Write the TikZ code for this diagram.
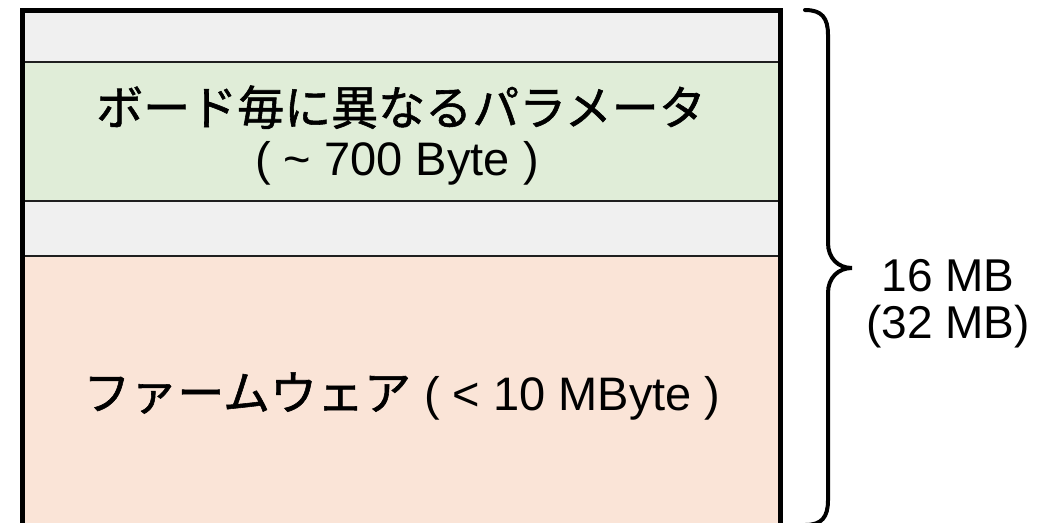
\documentclass[tikz,border=0pt]{standalone}
\usepackage{fontspec}
\setmainfont{Liberation Sans}
\newfontfamily\jp[FakeBold=1.2]{Noto Sans CJK JP}
\definecolor{bandgray}{HTML}{F0F0F0}
\definecolor{bandgreen}{HTML}{E0EDD8}
\definecolor{bandorange}{HTML}{FAE4D7}
\begin{document}
\begin{tikzpicture}[x=1pt,y=-1pt,
  band/.style={draw=black!88, line width=2pt, inner sep=0pt, outer sep=0pt, anchor=north west, minimum width=758pt},
  lbl/.style={font=\fontsize{47}{56}\selectfont, anchor=base, inner sep=0pt},
  sizelbl/.style={font=\fontsize{46}{55}\selectfont, anchor=base, inner sep=0pt}]
\useasboundingbox (0,0) rectangle (1051,522);
\clip (0,0) rectangle (1051,522);
\node[band, fill=bandgray, minimum height=51pt] (top) at (22.5,10.5) {};
\node[band, fill=bandgreen, minimum height=139pt] (params) at (22.5,61.5) {};
\node[band, fill=bandgray, minimum height=55.5pt] (gap) at (22.5,200.5) {};
\node[band, fill=bandorange, minimum height=290pt] (fw) at (22.5,256) {};
\draw[line width=5pt] (top.north west) rectangle (fw.south east);
\node[lbl] (t1) at (401,125) {\jp ボード毎に異なるパラメータ};
\node[lbl] (t2) at (397,175) {( \char"007E{} 700 Byte )};
\node[lbl] (t3) at (402,410) {{\jp ファームウェア} ( < 10 MByte )};
\draw[line width=4pt, line cap=round]
  (805,10) .. controls (822,10) and (828,18) .. (828,35)
  -- (828,243) .. controls (828,258) and (838,268) .. (852,268)
  .. controls (838,268) and (828,278) .. (828,293)
  -- (828,500) .. controls (828,517) and (822,525) .. (805,525);
\coordinate (tip) at (852,268);
\node[sizelbl] (s1) at (948,291) {16 MB};
\node[sizelbl] (s2) at (948,338) {(32 MB)};
\end{tikzpicture}
\end{document}
